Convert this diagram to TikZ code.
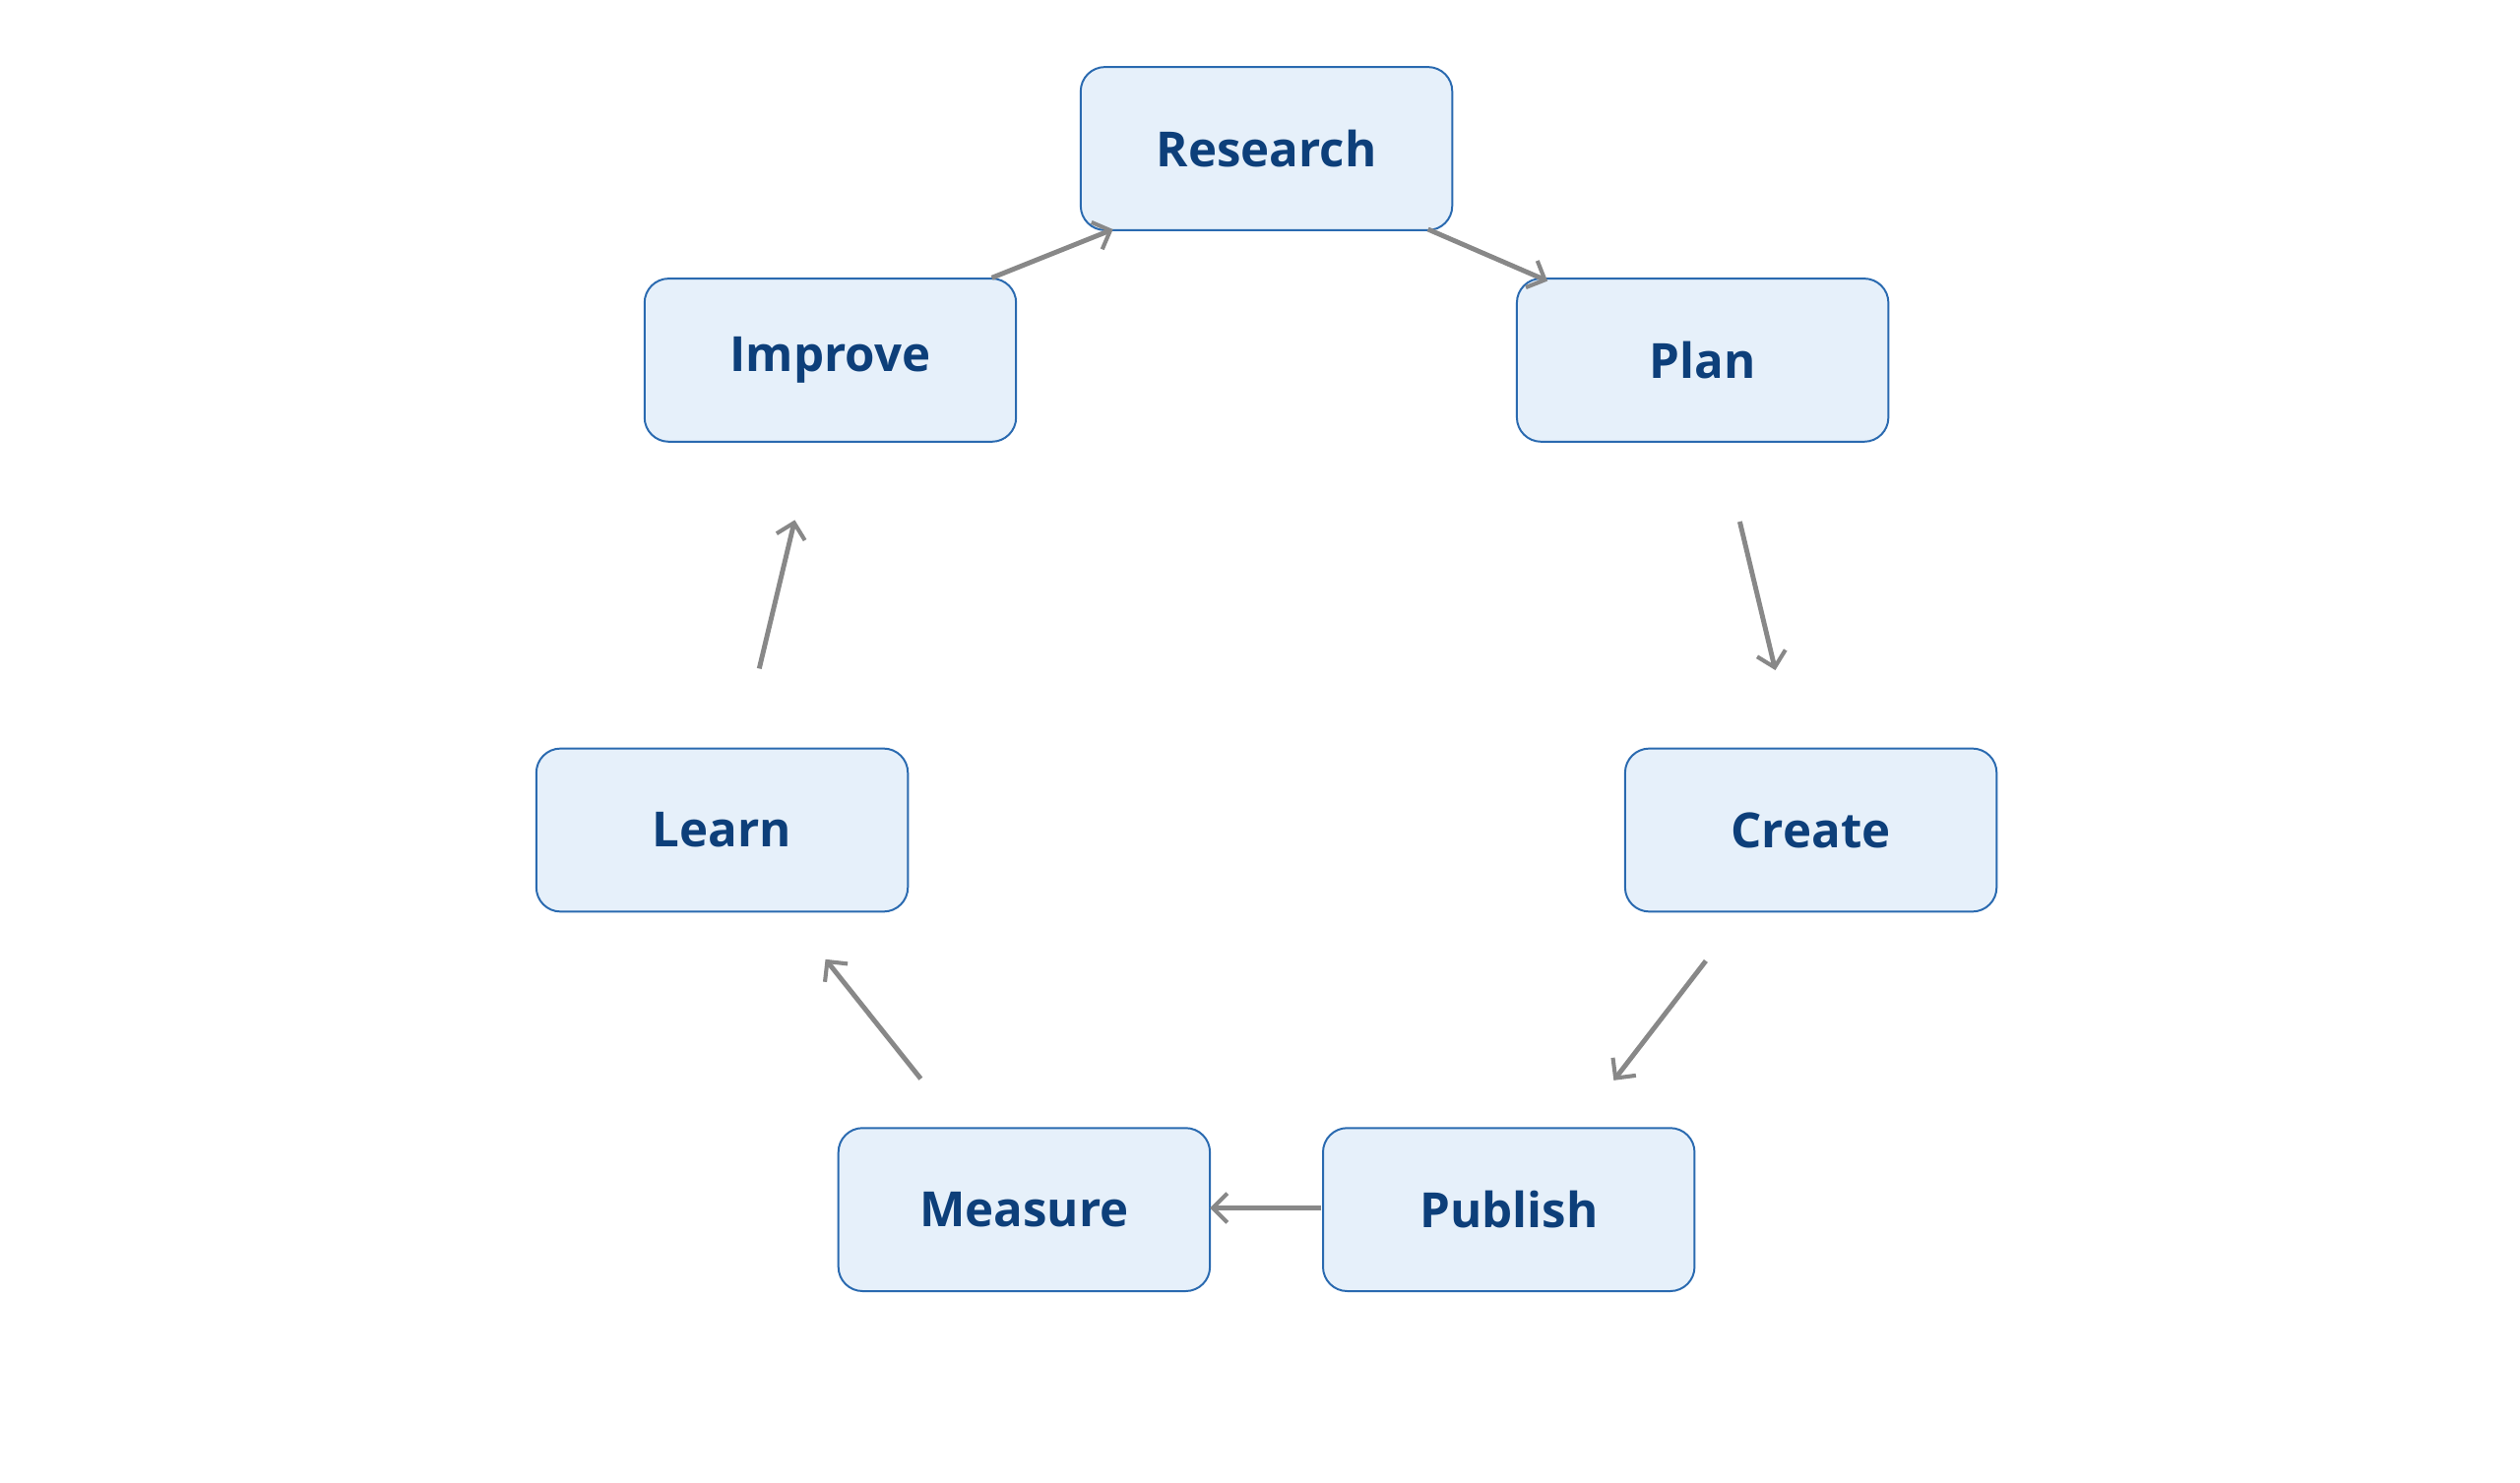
\documentclass[tikz,border=0pt]{standalone}
\usepackage{fontspec}
\setmainfont{Open Sans}
\usetikzlibrary{arrows.meta}
\definecolor{bfill}{HTML}{E6F0FA}
\definecolor{bline}{HTML}{2A6AB0}
\definecolor{btext}{HTML}{0D3F7A}
\definecolor{arr}{HTML}{888888}
\begin{document}
\begin{tikzpicture}[x=1pt,y=-1pt,
  box/.style={draw=bline,line width=1.2pt,fill=bfill,rounded corners=15pt,minimum width=230pt,minimum height=101pt,inner sep=0pt,font=\fontsize{30}{36}\selectfont\bfseries,text=btext},
  ar/.style={draw=arr,line width=3pt,-{Straight Barb[length=9pt,width=18pt,line width=2.5pt]}}]
\useasboundingbox (0,0) rectangle (1560,918);
\node[box] (research) at (784,92) {Research};
\node[box] (plan) at (1054,223) {Plan};
\node[box] (improve) at (514,223) {Improve};
\node[box] (create) at (1121,514) {Create};
\node[box] (learn) at (447,514) {Learn};
\node[box] (publish) at (934,749) {Publish};
\node[box] (measure) at (634,749) {Measure};
\coordinate (a1) at (614,172); \coordinate (a2) at (689,142);
\coordinate (b1) at (884,142); \coordinate (b2) at (958,174);
\coordinate (c1) at (1077,323); \coordinate (c2) at (1099,415);
\coordinate (d1) at (1056,595); \coordinate (d2) at (999,669);
\coordinate (e1) at (818,748); \coordinate (e2) at (749,748);
\coordinate (f1) at (570,668); \coordinate (f2) at (511,594);
\coordinate (g1) at (470,414); \coordinate (g2) at (492,322);
\begin{scope}[on background layer/.style={}]
\draw[ar] (a1) -- (a2);
\draw[ar] (b1) -- (b2);
\draw[ar] (c1) -- (c2);
\draw[ar] (d1) -- (d2);
\draw[ar] (e1) -- (e2);
\draw[ar] (f1) -- (f2);
\draw[ar] (g1) -- (g2);
\end{scope}
\end{tikzpicture}
\end{document}
